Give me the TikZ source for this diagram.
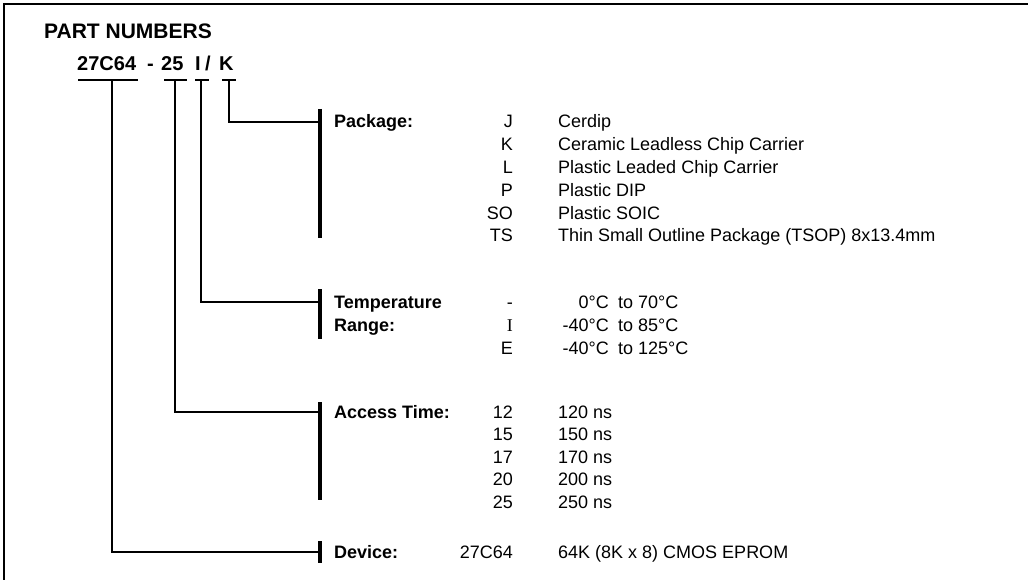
\documentclass[tikz,border=0pt]{standalone}
\usepackage{fontspec}
\setmainfont{Liberation Sans}
\newfontfamily\serifI{Liberation Serif}
\usetikzlibrary{positioning}

\begin{document}
\begin{tikzpicture}[
  x=1pt, y=-1pt,
  every node/.style={inner sep=0pt, font=\fontsize{18}{20}\selectfont},
  head/.style={anchor=base west, font=\fontsize{21}{24}\selectfont\bfseries},
  field/.style={anchor=base west, font=\fontsize{20}{24}\selectfont\bfseries},
  lbl/.style={anchor=base west, font=\fontsize{18}{20}\selectfont\bfseries},
  code/.style={anchor=base east},
  desc/.style={anchor=base west},
  uline/.style={line width=2.5pt},
  stem/.style={line width=2pt},
  bar/.style={line width=4pt}
]
\useasboundingbox (0,0) rectangle (1028,580);
\draw[line width=1.5pt] (4,580) -- (4,4) -- (1028,4);

\node[head] (title) at (44,39) {PART NUMBERS};
\node[field] (fdev) at (77,71) {27C64};
\node[field] (fdash) at (147,71) {-};
\node[field] (facc) at (161,71) {25};
\node[field] (ftmp) at (195,71) {I};
\node[field] (fslash) at (205,71) {/};
\node[field] (fpkg) at (219,71) {K};

\draw[uline] (78,80) -- (138,80);
\draw[uline] (164,80) -- (187,80);
\draw[uline] (195,80) -- (209,80);
\draw[uline] (222,80) -- (236,80);

\coordinate (sdev) at (112,80);
\coordinate (sacc) at (175,80);
\coordinate (stmp) at (201,80);
\coordinate (spkg) at (229,80);
\coordinate (jpkg) at (320,122);
\coordinate (jtmp) at (320,302);
\coordinate (jacc) at (320,412);
\coordinate (jdev) at (320,552);

\draw[stem] (spkg) |- (jpkg);
\draw[stem] (stmp) |- (jtmp);
\draw[stem] (sacc) |- (jacc);
\draw[stem] (sdev) |- (jdev);

\draw[bar] (320,109) -- (320,238);
\draw[bar] (320,289) -- (320,339);
\draw[bar] (320,402) -- (320,500);
\draw[bar] (320,541) -- (320,563);

\node[lbl] (pkg) at (334,128) {Package:};
\foreach \c/\d [count=\i from 0] in {J/Cerdip, K/Ceramic Leadless Chip Carrier,
    L/Plastic Leaded Chip Carrier, P/Plastic DIP, SO/Plastic SOIC,
    TS/Thin Small Outline Package (TSOP) 8x13.4mm} {
  \node[code] (pkc\i) at (513,128+22.8*\i) {\c};
  \node[desc] (pkd\i) at (558,128+22.8*\i) {\d};
}

\node[lbl] (tmp) at (334,308) {Temperature};
\node[lbl] (rng) at (334,331) {Range:};
\node[code] (tc0) at (513,308) {-};
\node[code] (tc1) at (513,331) {\serifI I};
\node[code] (tc2) at (513,354) {E};
\foreach \a/\b [count=\i from 0] in {0°C/70°C, -40°C/85°C, -40°C/125°C} {
  \node[code] (tlo\i) at (609,308+23*\i) {\a};
  \node[desc] (thi\i) at (618,308+23*\i) {to \b};
}

\node[lbl] (acc) at (334,418) {Access Time:};
\foreach \c/\d [count=\i from 0] in {12/120, 15/150, 17/170, 20/200, 25/250} {
  \node[code] (ac\i) at (513,418+22.5*\i) {\c};
  \node[desc] (ad\i) at (558,418+22.5*\i) {\d{} ns};
}

\node[lbl] (dev) at (334,558) {Device:};
\node[code] (devc) at (513,558) {27C64};
\node[desc] (devd) at (558,558) {64K (8K x 8) CMOS EPROM};
\end{tikzpicture}
\end{document}
